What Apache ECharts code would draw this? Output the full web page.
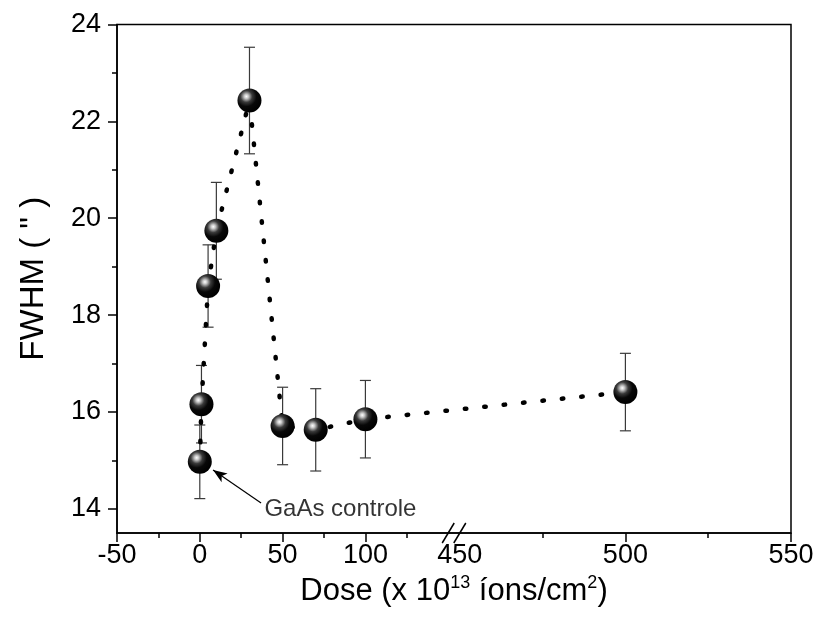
<!DOCTYPE html>
<html><head><meta charset="utf-8">
<script src="https://cdn.jsdelivr.net/npm/echarts@6/dist/echarts.min.js"></script>
<style>html,body{margin:0;padding:0;background:#fff}#c{width:820px;height:630px}</style>
</head><body><div id="c"></div>
<script>
// ---- data ----
const doses = [0, 1, 5, 10, 30, 50, 70, 100, 500];
const fwhm = [14.97, 16.16, 18.60, 19.74, 22.43, 15.71, 15.63, 15.85, 16.41];
const fwhmErr = [0.76, 0.80, 0.85, 1.00, 1.10, 0.80, 0.85, 0.80, 0.80];
const xMajorTicks = [-50, 0, 50, 100, 500, 550];
const xMinorTicks = [-25, 25, 75, 125, 475, 525];
const xLabels = [-50, 0, 50, 100, 450, 500, 550];
const yMajorTicks = [14, 16, 18, 20, 22, 24];
const yMinorTicks = [15, 17, 19, 21, 23];
const axisBreak = [150, 450];
const annotationText = 'GaAs controle';
const annotationAnchor = [39, 13.98];
const arrowFrom = [37, 14.12];
const arrowTo = [8, 14.8];

// broken axis: segment [-50,150] at unit scale, segment [450,550] at double scale
const BREAK_LO = 150, BREAK_HI = 450, SEG2_START = 157, SEG2_SCALE = 2;
function toV(x){ return x <= BREAK_LO ? x : SEG2_START + SEG2_SCALE * (x - BREAK_HI); }
function fromV(v){ return v <= BREAK_LO ? v : BREAK_HI + (v - SEG2_START) / SEG2_SCALE; }
const X_MIN = toV(-50), X_MAX = toV(550);
const Y_MIN = 13.5, Y_MAX = 24;

const FONT = '"Liberation Sans", Arial, sans-serif';

const pts = doses.map((d, i) => [toV(d), fwhm[i], fwhmErr[i]]);

const sphere = {
  type: 'radial', x: 0.37, y: 0.33, r: 0.68,
  colorStops: [
    {offset: 0, color: '#ffffff'},
    {offset: 0.13, color: '#c8c8c8'},
    {offset: 0.36, color: '#3a3a3a'},
    {offset: 0.62, color: '#080808'},
    {offset: 1, color: '#000000'}
  ]
};

const chart = echarts.init(document.getElementById('c'), null, {renderer: 'canvas'});
chart.setOption({
  animation: false,
  backgroundColor: '#fff',
  grid: {show: true, borderColor: '#000', borderWidth: 1.5, left: 117, right: 29, top: 24.5, bottom: 97, containLabel: false},
  xAxis: [{
    type: 'value', min: X_MIN, max: X_MAX, position: 'bottom',
    axisLine: {show: true, onZero: false, lineStyle: {color: '#000', width: 1.5}},
    axisTick: {show: true, length: 9, customValues: xMajorTicks.map(toV), lineStyle: {color: '#000', width: 1.5}},
    axisLabel: {show: true, customValues: xLabels.map(toV), formatter: v => String(Math.round(fromV(v))),
      color: '#000', fontSize: 27, fontFamily: FONT, margin: 9},
    splitLine: {show: false},
    name: 'Dose (x 10{sup|13} íons/cm{sup|2})', nameLocation: 'middle', nameGap: 34,
    nameTextStyle: {color: '#000', fontSize: 31, fontFamily: FONT, lineHeight: 36,
      rich: {sup: {fontSize: 18, fontFamily: FONT, verticalAlign: 'top', lineHeight: 36, color: '#000'}}}
  }, {
    type: 'value', min: X_MIN, max: X_MAX, position: 'bottom', gridIndex: 0,
    axisLine: {show: false, onZero: false},
    axisTick: {show: true, length: 5, customValues: xMinorTicks.map(toV), lineStyle: {color: '#000', width: 1.5}},
    axisLabel: {show: false}, splitLine: {show: false}
  }],
  yAxis: [{
    type: 'value', min: Y_MIN, max: Y_MAX, position: 'left',
    axisLine: {show: true, onZero: false, lineStyle: {color: '#000', width: 1.5}},
    axisTick: {show: true, length: 9, customValues: yMajorTicks, lineStyle: {color: '#000', width: 1.5}},
    axisLabel: {show: true, customValues: yMajorTicks, color: '#000', fontSize: 27, fontFamily: FONT, margin: 16},
    splitLine: {show: false},
    name: 'FWHM ( " )', nameLocation: 'middle', nameGap: 67, nameRotate: 90,
    nameTextStyle: {color: '#000', fontSize: 33, fontFamily: FONT}
  }, {
    type: 'value', min: Y_MIN, max: Y_MAX, position: 'left', gridIndex: 0,
    axisLine: {show: false, onZero: false},
    axisTick: {show: true, length: 5, customValues: yMinorTicks, lineStyle: {color: '#000', width: 1.5}},
    axisLabel: {show: false}, splitLine: {show: false}
  }],
  series: [
    {
      type: 'custom', name: 'err', z: 1, xAxisIndex: 0, yAxisIndex: 0,
      data: pts, encode: {x: 0, y: 1},
      renderItem: function (params, api) {
        const x = api.value(0), y = api.value(1), e = api.value(2);
        const t = api.coord([x, y + e]), b = api.coord([x, y - e]);
        const w = 5.5;
        const st = {stroke: '#3a3a3a', lineWidth: 1.2};
        return {type: 'group', children: [
          {type: 'line', shape: {x1: t[0], y1: t[1], x2: b[0], y2: b[1]}, style: st},
          {type: 'line', shape: {x1: t[0] - w, y1: t[1], x2: t[0] + w, y2: t[1]}, style: st},
          {type: 'line', shape: {x1: b[0] - w, y1: b[1], x2: b[0] + w, y2: b[1]}, style: st}
        ]};
      }
    },
    {
      type: 'line', z: 2, xAxisIndex: 0, yAxisIndex: 0,
      data: pts.map(p => [p[0], p[1]]), symbol: 'none',
      lineStyle: {color: '#000', width: 4.5, type: [1.5, 18], cap: 'round'}
    },
    {
      type: 'scatter', z: 3, xAxisIndex: 0, yAxisIndex: 0,
      data: pts.map(p => [p[0], p[1]]), symbol: 'circle', symbolSize: 24,
      itemStyle: {color: sphere, opacity: 1},
      markLine: {
        silent: true, animation: false,
        symbol: ['none', 'arrow'], symbolSize: [8, 14],
        lineStyle: {color: '#000', width: 1.2, type: 'solid'},
        label: {show: false},
        data: [[{coord: [toV(arrowFrom[0]), arrowFrom[1]]}, {coord: [toV(arrowTo[0]), arrowTo[1]]}]]
      }
    },
    {
      type: 'scatter', z: 4, xAxisIndex: 0, yAxisIndex: 0, silent: true,
      data: [[toV(annotationAnchor[0]), annotationAnchor[1]]], symbolSize: 0,
      label: {show: true, position: 'right', distance: 0, formatter: annotationText,
        color: '#000', fontSize: 24, fontFamily: FONT}
    },
    {
      type: 'custom', z: 10, xAxisIndex: 0, yAxisIndex: 0, silent: true, clip: false,
      data: axisBreak.map(v => [toV(v), Y_MIN]), encode: {x: 0, y: 1},
      renderItem: function (params, api) {
        const c = api.coord([api.value(0), api.value(1)]);
        return {type: 'line', shape: {x1: c[0] - 6, y1: c[1] + 10, x2: c[0] + 6, y2: c[1] - 10},
          style: {stroke: '#000', lineWidth: 1.5}};
      }
    }
  ]
});
</script>
</body></html>
